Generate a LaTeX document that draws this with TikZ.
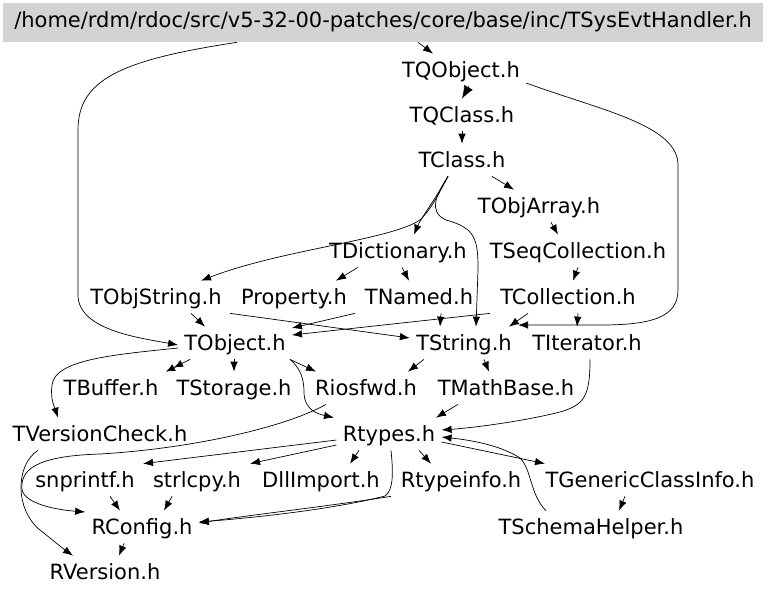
\documentclass[tikz,border=0pt]{standalone}
\usepackage{fontspec}
\setmainfont{DejaVu Sans}
\usetikzlibrary{arrows.meta}
\definecolor{hdrfill}{HTML}{D3D3D3}

\begin{document}
\begin{tikzpicture}[
  x=1pt, y=-1pt,
  font=\fontsize{21}{24}\selectfont,
  >={Latex[length=10pt,width=7.5pt]},
  every path/.append style={line width=0.7pt},
  inc/.style={inner xsep=6pt, inner ysep=8.5pt, text height=15pt, text depth=0pt},
  hdr/.style={fill=hdrfill, inner sep=0pt, minimum width=760pt, minimum height=39pt, text height=15pt, text depth=5pt},
]
\useasboundingbox (0,0) rectangle (768,595);

% Top file
\node[hdr] (top) at (383,22.5) {/home/rdm/rdoc/src/v5-32-00-patches/core/base/inc/TSysEvtHandler.h};

% Rows of included headers
\node[inc] (tqobject) at (461,70) {TQObject.h};
\node[inc] (tqclass) at (462,115) {TQClass.h};
\node[inc] (tclass) at (462,160) {TClass.h};
\node[inc] (tobjarray) at (539,206) {TObjArray.h};
\node[inc] (tdict) at (398,251) {TDictionary.h};
\node[inc] (tseqcoll) at (578,251) {TSeqCollection.h};
\node[inc] (tobjstring) at (156,297) {TObjString.h};
\node[inc] (property) at (294,297) {Property.h};
\node[inc] (tnamed) at (419,297) {TNamed.h};
\node[inc] (tcoll) at (568,297) {TCollection.h};
\node[inc] (tobject) at (235,343) {TObject.h};
\node[inc] (tstring) at (464,343) {TString.h};
\node[inc] (titer) at (587,343) {TIterator.h};
\node[inc] (tbuffer) at (111,388) {TBuffer.h};
\node[inc] (tstorage) at (234,388) {TStorage.h};
\node[inc] (riosfwd) at (366,388) {Riosfwd.h};
\node[inc] (tmathbase) at (506,388) {TMathBase.h};
\node[inc] (tvercheck) at (100,434) {TVersionCheck.h};
\node[inc] (rtypes) at (389,434) {Rtypes.h};
\node[inc] (snprintf) at (85,480) {snprintf.h};
\node[inc] (strlcpy) at (197,480) {strlcpy.h};
\node[inc] (dllimport) at (321,480) {DllImport.h};
\node[inc] (rtypeinfo) at (461,480) {Rtypeinfo.h};
\node[inc] (tgeneric) at (650,480) {TGenericClassInfo.h};
\node[inc] (rconfig) at (142,527) {RConfig.h};
\node[inc] (tschema) at (591,527) {TSchemaHelper.h};
\node[inc] (rversion) at (105,572) {RVersion.h};

% From the top file
\draw[->] ([xshift=35]top.south) -- ([xshift=-28]tqobject.north);
\draw[->] ([xshift=-146]top.south) .. controls (120,60) and (78,80) .. (78,130) -- (78,295)
  .. controls (78,330) and (140,338) .. ([yshift=-2]tobject.west);

% TQObject, TQClass, TClass
\draw[-{Latex[length=13pt,width=10pt]}] ([xshift=8]tqobject.south) -- (tqclass.north);
\draw[->] ([yshift=-13]tqobject.east) .. controls (600,110) and (678,125) .. (678,165) -- (678,290)
  .. controls (678,318) and (650,325) .. (600,325) -- ([yshift=18]tstring.east);
\draw[->] (tqclass.south) -- (tclass.north);
\draw[->] ([xshift=30]tclass.south) -- ([xshift=-25]tobjarray.north);
\draw[->] ([xshift=-14]tclass.south) .. controls (438,195) and (432,208) .. (420,220)
  .. controls (390,240) and (280,250) .. ([xshift=45]tobjstring.north);
\draw[->] ([xshift=-14]tclass.south) .. controls (436,198) and (420,220) .. ([xshift=16]tdict.north);
\draw[->] ([xshift=-14]tclass.south) .. controls (436,195) and (428,212) .. (446,220)
  .. controls (476,228) and (478,240) .. (478,270) -- ([xshift=12]tstring.north);

% Collections and dictionary
\draw[->] ([xshift=12]tobjarray.south) -- ([xshift=-20]tseqcoll.north);
\draw[->] ([xshift=-40]tdict.south) -- ([xshift=42]property.north);
\draw[->] ([xshift=4]tdict.south) -- ([xshift=-10]tnamed.north);
\draw[->] (tseqcoll.south) -- ([xshift=5]tcoll.north);

% Into TObject and TString
\draw[->] ([xshift=35]tobjstring.south) -- ([xshift=-30]tobject.north);
\draw[->] ([xshift=74]tobjstring.south) -- ([yshift=5]tstring.west);
\draw[->] ([xshift=-64]tnamed.south) -- ([yshift=15]tobject.east);
\draw[->] ([xshift=22]tnamed.south) -- ([xshift=-24]tstring.north);
\draw[->] ([xshift=-78]tcoll.south) -- ([yshift=8]tobject.east);
\draw[->] ([xshift=-40]tcoll.south) -- ([xshift=45]tstring.north);
\draw[->] ([xshift=10]tcoll.south) -- ([xshift=-10]titer.north);

% Below TObject
\draw[-{Latex[length=9pt,width=7.5pt]Latex[length=9pt,width=7.5pt]}] ([xshift=-45]tobject.south) -- ([xshift=55]tbuffer.north);
\draw[->] ([xshift=-1]tobject.south) -- (tstorage.north);
\draw[->] ([xshift=55]tobject.south) -- ([xshift=-50]riosfwd.north);
\draw[->] ([xshift=55]tobject.south) .. controls (300,368) and (304,378) .. (304,392)
  .. controls (304,410) and (318,414) .. ([xshift=-55]rtypes.north);
\draw[->] ([yshift=-5]tobject.west) .. controls (110,355) and (55,360) .. (52,385)
  .. controls (50,400) and (55,408) .. ([xshift=-42]tvercheck.north);

% Below TString and TIterator
\draw[->] ([xshift=-40]tstring.south) -- ([xshift=42]riosfwd.north);
\draw[->] ([xshift=20]tstring.south) -- ([xshift=-17]tmathbase.north);
\draw[->] ([xshift=3]titer.south) .. controls (590,395) and (585,405) .. (560,412)
  .. controls (520,422) and (470,428) .. ([yshift=4]rtypes.east);
\draw[->] ([xshift=-48]tmathbase.south) -- ([xshift=47]rtypes.north);
\draw[->] ([xshift=-40]riosfwd.south) .. controls (290,425) and (200,448) .. (100,454)
  .. controls (35,456) and (20,470) .. (22,490) .. controls (26,505) and (60,510) .. ([yshift=15]rconfig.west);

% Rtypes and below
\draw[->] ([yshift=-6]rtypes.west) -- ([xshift=58]snprintf.north);
\draw[->] ([yshift=-11]rtypes.west) -- ([xshift=53]strlcpy.north);
\draw[->] ([xshift=-30]rtypes.south) -- ([xshift=29]dllimport.north);
\draw[->] ([xshift=30]rtypes.south) -- ([xshift=-30]rtypeinfo.north);
\draw[->] ([yshift=-8]rtypes.east) -- ([xshift=-105]tgeneric.north);
\draw[->] ([xshift=-45]tschema.north) .. controls (530,495) and (532,470) .. (520,458)
  .. controls (500,445) and (470,440) .. ([yshift=-3]rtypes.east);
\draw[->] ([xshift=-25]tgeneric.south) -- ([xshift=28]tschema.north);
\draw[->] ([xshift=2]rtypes.south) .. controls (393,470) and (394,490) .. (385,496)
  .. controls (330,510) and (250,518) .. ([yshift=5]rconfig.east);
\draw[->] ([xshift=-70]rtypeinfo.south) .. controls (330,506) and (250,515) .. ([yshift=4]rconfig.east);
\draw[->] ([xshift=25]snprintf.south) -- ([xshift=-22]rconfig.north);
\draw[->] ([xshift=-25]strlcpy.south) -- ([xshift=22]rconfig.north);
\draw[->] ([xshift=-18]rconfig.south) -- ([xshift=14]rversion.north);
\draw[->] ([xshift=-62]tvercheck.south) .. controls (15,465) and (15,510) .. (40,530)
  .. controls (55,542) and (65,550) .. ([xshift=-32]rversion.north);

\end{tikzpicture}
\end{document}
